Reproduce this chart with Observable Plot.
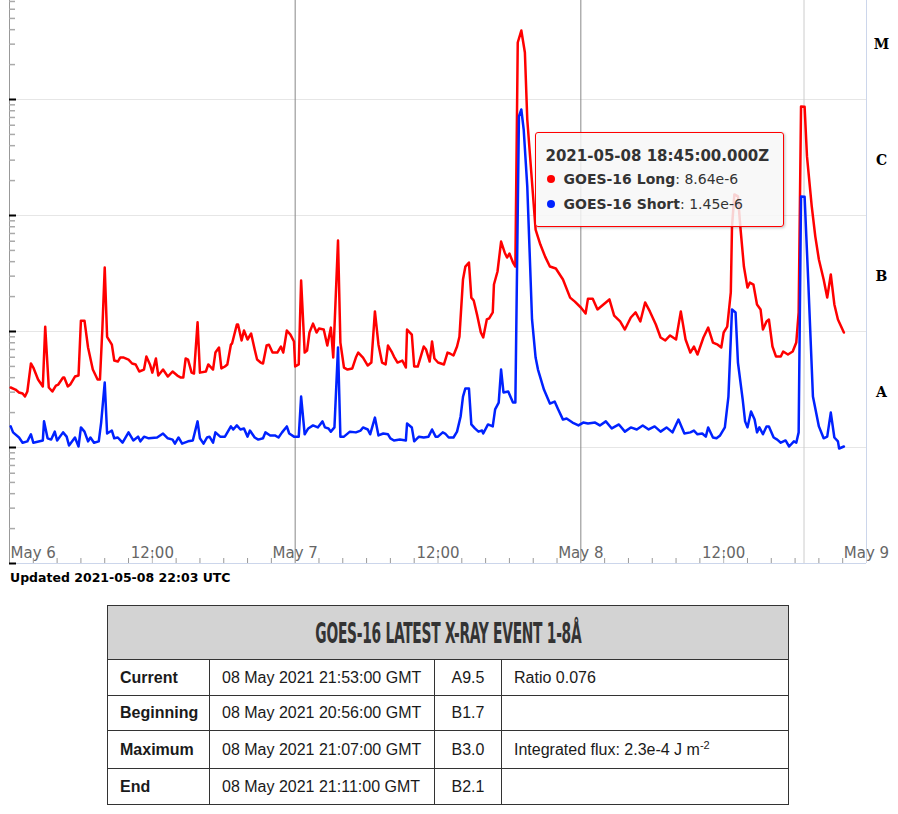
<!DOCTYPE html>
<html>
<head>
<meta charset="utf-8">
<script src="https://cdn.jsdelivr.net/npm/d3@7"></script>
<script src="https://cdn.jsdelivr.net/npm/@observablehq/plot@0.6"></script>
<style>
  html, body { margin: 0; padding: 0; background: #fff; }
  #wrap { position: relative; width: 898px; height: 814px; overflow: hidden; font-family: "DejaVu Sans", Verdana, sans-serif; }
  #chart { position: absolute; left: 0; top: 0; }
  #tip { position: absolute; width: 247px; height: 93px; border: 1px solid #ff0000; border-radius: 3px;
         background: rgba(247,247,247,0.85); box-shadow: 1px 1px 3px rgba(0,0,0,0.25); color: #333;
         font-family: "DejaVu Sans", Verdana, sans-serif; box-sizing: content-box; }
  #tip .hd { position: absolute; left: 10px; top: 14px; font-size: 15px; font-weight: bold; white-space: nowrap; }
  #tip .it { position: absolute; left: 11px; font-size: 14px; white-space: nowrap; }
  #tip .it b { font-weight: bold; }
  #tip .dot { display: inline-block; width: 8px; height: 8px; border-radius: 50%; margin-right: 9px; vertical-align: 1px; }
  #updated { position: absolute; left: 10px; top: 570px; font-size: 12.5px; font-weight: bold; color: #000; white-space: nowrap; }
  #evt { position: absolute; left: 107px; top: 605px; border-collapse: collapse; table-layout: fixed; width: 681px;
         font-family: "Liberation Sans", Arial, sans-serif; font-size: 16px; color: #1a1a1a; }
  #evt td, #evt th { border: 1px solid #333; padding: 0 12px; white-space: nowrap; overflow: visible; }
  #evt th { background: #d3d3d3; height: 53px; padding: 0; text-align: center; }
  #evt td.lab { font-weight: bold; padding-left: 12px; }
  #evt td.cls { text-align: center; padding: 0; }
  #evt sup { font-size: 11px; vertical-align: 6px; line-height: 0; }
  #ttl { display: inline-block; font-family: "Liberation Sans Narrow", "DejaVu Sans Condensed", "Liberation Sans", sans-serif;
         font-weight: bold; font-size: 29px; color: #333; transform-origin: center center; white-space: nowrap; letter-spacing: -0.5px; }
</style>
</head>
<body>
<div id="wrap">
  <div id="chart"></div>
  <div id="tip"></div>
  <div id="updated"></div>
  <table id="evt"></table>
</div>
<script>
// ---------------- data ----------------
// hours after 2021-05-06 00:00 UTC, and X-ray flux (W/m^2)
const longHours = [
  0.1,0.5,0.8,1.1,1.3,1.5,1.8,2.0,2.4,2.8,
  3.0,3.3,3.6,3.9,4.1,4.5,4.6,4.9,5.1,5.5,
  5.8,6.0,6.3,6.6,7.0,7.4,7.6,7.8,8.0,8.2,
  8.6,8.8,9.1,9.3,9.6,10.0,10.3,10.6,10.9,11.3,
  11.5,11.8,12.0,12.3,12.5,12.9,13.3,13.7,14.1,14.4,
  14.6,14.8,15.0,15.3,15.5,15.8,16.0,16.5,16.7,17.1,
  17.3,17.6,17.8,18.1,18.3,18.6,18.7,19.1,19.2,19.5,
  19.7,20.0,20.3,20.6,20.8,21.1,21.3,21.6,21.8,22.1,
  22.5,22.8,23.0,23.3,23.6,23.9,24.0,24.3,24.5,24.8,
  25.0,25.2,25.5,25.8,26.0,26.4,26.7,27.0,27.2,27.6,
  27.8,28.1,28.4,28.8,29.1,29.3,29.7,29.8,30.1,30.4,
  30.7,31.0,31.3,31.6,31.8,32.1,32.3,32.6,33.0,33.3,
  33.4,33.8,34.0,34.3,34.6,34.8,35.0,35.3,35.5,35.7,
  36.0,36.5,36.8,37.0,37.3,37.6,37.8,38.1,38.3,38.6,
  38.8,39.0,39.3,39.6,39.8,40.1,40.3,40.6,40.7,41.0,
  41.3,41.6,41.8,42.0,42.3,42.5,42.7,43.0,43.3,43.5,
  44.2,44.6,45.0,45.4,45.9,46.5,47.1,47.5,48.0,48.4,
  48.6,49.0,49.4,49.9,50.4,50.8,51.3,51.7,52.2,52.6,
  53.0,53.4,53.8,54.3,54.7,55.1,55.5,56.0,56.4,56.8,
  57.2,57.5,57.8,58.3,58.7,59.1,59.5,59.8,60.0,60.3,
  60.6,60.7,60.9,61.2,61.4,61.7,62.0,62.2,62.5,62.8,
  63.1,63.3,63.6,63.8,64.1,64.4,64.8,65.0,65.4,65.8,
  66.1,66.3,66.5,66.8,67.0,67.4,67.7,68.0,68.4,68.7,
  69.0,69.3,69.6,70.1
];
const longFlux = [
  3.29e-8,3.16e-8,2.98e-8,2.92e-8,2.75e-8,3.04e-8,5.30e-8,4.89e-8,3.86e-8,3.36e-8,
  1.10e-7,3.29e-8,3.04e-8,3.42e-8,3.49e-8,4.01e-8,4.01e-8,3.36e-8,3.49e-8,4.09e-8,
  4.17e-8,1.24e-7,1.24e-7,7.28e-8,4.70e-8,3.86e-8,3.86e-8,1.04e-7,3.56e-7,9.0e-8,
  7.7e-8,5.62e-8,5.51e-8,5.96e-8,5.96e-8,5.73e-8,5.30e-8,5.2e-8,4.52e-8,4.70e-8,
  6.08e-8,5.2e-8,4.42e-8,5.85e-8,4.17e-8,4.70e-8,4.09e-8,4.52e-8,4.17e-8,4.01e-8,
  4.01e-8,5.85e-8,5.73e-8,4.42e-8,4.34e-8,1.2e-7,4.42e-8,4.52e-8,5.2e-8,4.70e-8,
  6.58e-8,7.28e-8,4.8e-8,4.99e-8,5.2e-8,7.7e-8,7.88e-8,1.15e-7,1.15e-7,8.37e-8,
  1.02e-7,8.53e-8,9.61e-8,6.99e-8,5.73e-8,5.4e-8,5.30e-8,7.57e-8,7.7e-8,6.58e-8,
  6.58e-8,7.42e-8,6.58e-8,1.02e-7,9.4e-8,8.2e-8,4.99e-8,5.2e-8,2.75e-7,6.58e-8,
  6.85e-8,9.8e-8,1.17e-7,9.8e-8,1.06e-7,1.04e-7,7.57e-8,1.08e-7,5.96e-8,6.08e-7,
  8.03e-8,4.89e-8,4.70e-8,4.8e-8,5.96e-8,6.58e-8,5.96e-8,5.73e-8,5.09e-8,5.4e-8,
  1.49e-7,7.7e-8,5.4e-8,5.2e-8,7.57e-8,6.72e-8,6.08e-8,5.4e-8,5.62e-8,4.89e-8,
  1.04e-7,9.4e-8,4.99e-8,4.99e-8,6.33e-8,7.42e-8,6.99e-8,5.51e-8,8.2e-8,5.85e-8,
  5.4e-8,5.2e-8,6.58e-8,6.46e-8,6.21e-8,7.42e-8,9.0e-8,2.81e-7,3.63e-7,3.93e-7,
  1.96e-7,1.85e-7,1.37e-7,9.8e-8,8.88e-8,1.27e-7,1.30e-7,1.46e-7,2.54e-7,3.29e-7,
  5.96e-7,4.8e-7,4.34e-7,4.70e-7,3.93e-7,3.63e-7,3.10e-5,3.93e-5,2.54e-5,6.72e-6,
  7.57e-7,5.62e-7,4.42e-7,3.63e-7,3.49e-7,2.81e-7,1.96e-7,1.81e-7,1.61e-7,1.43e-7,
  1.92e-7,1.92e-7,1.55e-7,1.71e-7,1.89e-7,1.37e-7,1.22e-7,1.04e-7,1.32e-7,1.46e-7,
  1.22e-7,1.78e-7,1.49e-7,1.15e-7,8.88e-8,8.37e-8,9.24e-8,8.53e-8,1.49e-7,8.53e-8,
  6.58e-8,7.42e-8,6.33e-8,8.88e-8,1.08e-7,8.03e-8,7.7e-8,7.28e-8,9.8e-8,1.10e-7,
  2.17e-7,8.03e-7,1.52e-6,1.46e-6,8.03e-7,3.63e-7,2.39e-7,2.64e-7,2.54e-7,1.71e-7,
  1.55e-7,1.04e-7,1.22e-7,1.27e-7,7.42e-8,6.08e-8,6.08e-8,6.72e-8,6.33e-8,6.72e-8,
  8.03e-8,1.46e-7,8.7e-6,8.64e-6,3.23e-6,1.2e-6,6.58e-7,4.17e-7,2.81e-7,1.96e-7,
  3.10e-7,1.71e-7,1.27e-7,9.8e-8
];
const shortHours = [
  0.1,0.3,0.8,1.1,1.5,1.8,2.0,2.8,2.9,3.2,
  3.5,3.8,4.0,4.5,4.8,5.0,5.5,5.8,6.0,6.3,
  6.6,6.8,7.1,7.5,7.7,8.0,8.2,8.6,8.8,9.1,
  9.5,10.0,10.4,10.8,11.0,11.3,11.7,12.4,12.9,13.3,
  13.7,13.9,14.2,14.5,15.0,15.4,15.8,16.0,16.3,16.6,
  16.8,17.1,17.3,17.7,18.1,18.6,18.8,19.1,19.4,19.7,
  20.0,20.2,20.6,20.9,21.3,21.5,21.9,22.3,22.6,22.9,
  23.3,23.5,23.9,24.3,24.5,24.8,25.1,25.5,25.9,26.3,
  26.5,26.8,27.0,27.3,27.6,27.8,28.1,28.6,29.1,29.5,
  29.7,30.1,30.3,30.7,31.0,31.4,31.8,32.0,32.3,32.8,
  33.3,33.4,33.8,34.0,34.4,34.8,35.2,35.5,35.8,36.0,
  36.4,36.6,36.9,37.3,37.6,37.9,38.1,38.3,38.6,38.8,
  39.1,39.4,39.7,39.8,40.2,40.6,40.8,41.1,41.3,41.5,
  41.9,42.3,42.5,42.8,43.0,43.2,43.5,43.7,43.9,44.2,
  44.4,44.9,45.4,45.8,46.1,46.5,46.8,47.3,47.8,48.2,
  48.6,49.2,49.6,50.1,50.6,51.2,51.7,52.2,52.7,53.2,
  53.7,54.2,54.7,55.2,55.7,56.2,56.7,57.2,57.5,57.8,
  58.2,58.5,58.7,59.1,59.4,59.7,60.1,60.4,60.7,61.0,
  61.2,61.6,61.8,62.0,62.3,62.6,62.8,63.0,63.3,63.6,
  63.8,64.2,64.5,64.8,65.2,65.5,65.9,66.1,66.3,66.5,
  66.8,67.1,67.5,68.0,68.4,68.7,69.0,69.3,69.6,69.7,70.1
];
const shortFlux = [
  1.52e-8,1.35e-8,1.22e-8,1.10e-8,1.13e-8,1.30e-8,1.10e-8,1.15e-8,1.68e-8,1.20e-8,
  1.17e-8,1.37e-8,1.15e-8,1.35e-8,1.24e-8,1.04e-8,1.22e-8,1.02e-8,1.49e-8,1.37e-8,
  1.13e-8,1.22e-8,1.10e-8,1.13e-8,1.64e-8,3.63e-8,1.32e-8,1.40e-8,1.20e-8,1.22e-8,
  1.10e-8,1.35e-8,1.15e-8,1.24e-8,1.13e-8,1.24e-8,1.20e-8,1.22e-8,1.32e-8,1.20e-8,
  1.17e-8,1.08e-8,1.22e-8,1.08e-8,1.13e-8,1.15e-8,1.68e-8,1.20e-8,1.08e-8,1.22e-8,
  1.24e-8,1.10e-8,1.35e-8,1.24e-8,1.24e-8,1.52e-8,1.43e-8,1.55e-8,1.43e-8,1.46e-8,
  1.24e-8,1.40e-8,1.22e-8,1.17e-8,1.20e-8,1.35e-8,1.27e-8,1.27e-8,1.22e-8,1.35e-8,
  1.52e-8,1.32e-8,1.24e-8,1.24e-8,2.75e-8,1.30e-8,1.46e-8,1.55e-8,1.49e-8,1.68e-8,
  1.49e-8,1.46e-8,1.37e-8,1.49e-8,7.28e-8,1.24e-8,1.24e-8,1.37e-8,1.35e-8,1.40e-8,
  1.49e-8,1.43e-8,1.30e-8,1.81e-8,1.27e-8,1.32e-8,1.30e-8,1.20e-8,1.15e-8,1.17e-8,
  1.15e-8,1.61e-8,1.49e-8,1.13e-8,1.24e-8,1.22e-8,1.24e-8,1.43e-8,1.24e-8,1.24e-8,
  1.35e-8,1.32e-8,1.22e-8,1.22e-8,1.37e-8,1.85e-8,2.75e-8,3.23e-8,3.23e-8,1.58e-8,
  1.46e-8,1.37e-8,1.40e-8,1.32e-8,1.58e-8,1.52e-8,2.13e-8,2.44e-8,4.70e-8,2.98e-8,
  3.04e-8,2.44e-8,2.44e-8,7.14e-6,8.2e-6,5.51e-6,1.78e-6,4.8e-7,1.27e-7,5.96e-8,
  4.70e-8,3.16e-8,2.39e-8,2.49e-8,2.13e-8,1.74e-8,1.78e-8,1.64e-8,1.55e-8,1.64e-8,
  1.61e-8,1.64e-8,1.55e-8,1.68e-8,1.46e-8,1.58e-8,1.37e-8,1.49e-8,1.43e-8,1.55e-8,
  1.43e-8,1.52e-8,1.37e-8,1.49e-8,1.35e-8,1.74e-8,1.32e-8,1.35e-8,1.40e-8,1.30e-8,
  1.32e-8,1.24e-8,1.49e-8,1.22e-8,1.20e-8,1.27e-8,1.49e-8,2.75e-8,1.55e-7,1.46e-7,
  5.4e-8,2.59e-8,1.68e-8,1.49e-8,2.04e-8,1.74e-8,1.35e-8,1.49e-8,1.30e-8,1.52e-8,
  1.52e-8,1.22e-8,1.17e-8,1.10e-8,1.15e-8,1.02e-8,1.13e-8,1.10e-8,1.35e-8,1.46e-6,
  1.45e-6,2.81e-7,2.75e-8,1.52e-8,1.20e-8,1.24e-8,2.0e-8,1.22e-8,1.13e-8,9.8e-9,1.02e-8
];

const seriesNames = ["GOES-16 Long", "GOES-16 Short"];
const seriesColors = ["#ff0000", "#0022ff"];

// x tick labels (hours after start)
const xTickHours = [0, 12, 24, 36, 48, 60, 72];
const xTickLabels = ["May 6", "12:00", "May 7", "12:00", "May 8", "12:00", "May 9"];

// flare classes on the right
const classNames = ["A", "B", "C", "M"];
const classFlux = [3e-8, 3e-7, 3e-6, 3e-5];

// y decades (grid)
const decades = [1e-9, 1e-8, 1e-7, 1e-6, 1e-5];

// tooltip
const tipHour = 66.75;
const tipTitle = "2021-05-08 18:45:00.000Z";
const tipValues = ["8.64e-6", "1.45e-6"];

const updatedText = "Updated 2021-05-08 22:03 UTC";

// event table
const tableTitle = "GOES-16 LATEST X-RAY EVENT 1-8Å";
const eventLabels = ["Current", "Beginning", "Maximum", "End"];
const eventTimes = ["08 May 2021 21:53:00 GMT", "08 May 2021 20:56:00 GMT", "08 May 2021 21:07:00 GMT", "08 May 2021 21:11:00 GMT"];
const eventClasses = ["A9.5", "B1.7", "B3.0", "B2.1"];
const eventNotes = ["Ratio 0.076", "", "Integrated flux: 2.3e-4 J m<sup>-2</sup>", ""];
const rowHeights = [36, 35, 38, 36];

// ---------------- chart ----------------
const START = Date.UTC(2021, 4, 6);
const toDate = h => new Date(START + h * 3600e3);
const longData = longHours.map((h, i) => ({t: toDate(h), v: longFlux[i]}));
const shortData = shortHours.map((h, i) => ({t: toDate(h), v: shortFlux[i]}));

const W = 898, H = 566, ML = 9, MR = 32, MT = 0, MB = 3;
const frameW = W - ML - MR, frameH = H - MT - MB;
const yTop = Math.pow(10, -9 + frameH / 116);

const minorY = [];
for (const d of [1e-10, 1e-9, 1e-8, 1e-7, 1e-6, 1e-5]) for (let k = 2; k <= 9; k++) { const v = d * k; if (v > 1e-9 && v < yTop) minorY.push(v); }
const twoHour = d3.utcHour.every(2).range(toDate(0), toDate(72.01)).filter(d => d.getUTCHours() % 12 !== 0);
const halfDay = xTickHours.map(toDate).filter(d => d.getUTCHours() === 12);
const dayLines = [toDate(24), toDate(48)];

const txt = {fontFamily: "DejaVu Sans, Verdana, sans-serif", fontSize: 15, fill: "#666", frameAnchor: "bottom", dy: -6};

const chart = Plot.plot({
  width: W, height: H,
  marginLeft: ML, marginRight: MR, marginTop: MT, marginBottom: MB,
  x: {type: "utc", domain: [toDate(0), toDate(72)], axis: null},
  y: {type: "log", domain: [1e-9, yTop], axis: null},
  style: {background: "transparent", overflow: "visible"},
  marks: [
    Plot.ruleY(decades, {stroke: "#e6e6e6", strokeWidth: 1}),
    Plot.ruleX(dayLines, {stroke: "#888", strokeWidth: 1}),
    Plot.ruleX([toDate(tipHour)], {stroke: "#cccccc", strokeWidth: 1}),
    Plot.ruleX([toDate(72)], {stroke: "#ccd6eb", strokeWidth: 1}),
    Plot.ruleY([1e-9], {stroke: "#ccd6eb", strokeWidth: 1}),
    Plot.ruleX([toDate(0)], {stroke: "#999", strokeWidth: 1}),
    Plot.ruleY(minorY, {stroke: "#aaa", strokeWidth: 1.5, insetRight: frameW - 6}),
    Plot.ruleY(decades, {stroke: "#000", strokeWidth: 2, insetRight: frameW - 7}),
    Plot.ruleX(twoHour, {stroke: "#999", strokeWidth: 1, insetTop: frameH - 5}),
    Plot.ruleX(halfDay, {stroke: "#bbb", strokeWidth: 1, insetTop: frameH - 11}),
    Plot.text([xTickHours[0]], {...txt, x: h => toDate(h), text: () => xTickLabels[0], textAnchor: "start", dx: 1}),
    Plot.text(xTickHours.slice(1), {...txt, x: h => toDate(h), text: (h, i) => xTickLabels[i + 1], textAnchor: "middle"}),
    Plot.line(longData, {x: "t", y: "v", stroke: seriesColors[0], strokeWidth: 2.5, strokeLinejoin: "round"}),
    Plot.line(shortData, {x: "t", y: "v", stroke: seriesColors[1], strokeWidth: 2.5, strokeLinejoin: "round"}),
    Plot.text(classNames, {y: classFlux, text: d => d, frameAnchor: "right", dx: 15, textAnchor: "middle",
      fontFamily: "DejaVu Serif, serif", fontWeight: "bold", fontSize: 14, fill: "#000"})
  ]
});
document.getElementById("chart").appendChild(chart);

// tooltip
const xs = chart.scale("x");
const crossX = xs.apply(toDate(tipHour));
const tip = document.getElementById("tip");
tip.style.left = (crossX - 20 - 249) + "px";
tip.style.top = "132px";
tip.innerHTML = `<div class="hd">${tipTitle}</div>` +
  seriesNames.map((n, i) => `<div class="it" style="top:${38 + i * 25}px"><span class="dot" style="background:${seriesColors[i]}"></span><b>${n}</b>: ${tipValues[i]}</div>`).join("");

document.getElementById("updated").textContent = updatedText;

// table
const tbl = document.getElementById("evt");
let html = `<colgroup><col style="width:102px"><col style="width:225px"><col style="width:67px"><col style="width:287px"></colgroup>`;
html += `<tr><th colspan="4"><span id="ttl">${tableTitle}</span></th></tr>`;
eventLabels.forEach((lab, i) => {
  html += `<tr style="height:${rowHeights[i]}px"><td class="lab">${lab}</td><td>${eventTimes[i]}</td><td class="cls">${eventClasses[i]}</td><td>${eventNotes[i]}</td></tr>`;
});
tbl.innerHTML = html;
const ttl = document.getElementById("ttl");
const tw = ttl.getBoundingClientRect().width;
ttl.style.transform = `scaleX(${266 / tw})`;
</script>
</body>
</html>
